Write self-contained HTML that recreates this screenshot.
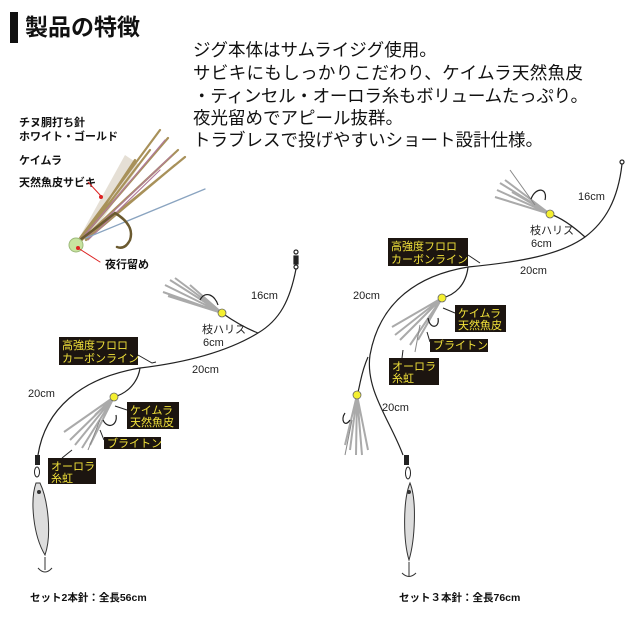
<!DOCTYPE html>
<html><head><meta charset="utf-8"><style>
body{margin:0;background:#fff}
svg{display:block}
text{font-family:"Liberation Sans","Noto Sans CJK JP",sans-serif}
.b{font-weight:bold;font-size:11px;fill:#111}
.y{fill:#f2e23a;font-size:11px}
.s{font-size:11px;fill:#222}
</style></head><body>
<svg width="630" height="630" viewBox="0 0 630 630" xmlns="http://www.w3.org/2000/svg">
<rect width="630" height="630" fill="#fff"/>
<rect x="10" y="12" width="8" height="31" fill="#111"/>
<text x="25" y="35" font-size="23" font-weight="bold" fill="#111">製品の特徴</text>
<g font-size="17.5" fill="#111">
<text x="193" y="56">ジグ本体はサムライジグ使用。</text>
<text x="193" y="79" textLength="390">サビキにもしっかりこだわり、ケイムラ天然魚皮</text>
<text x="193" y="102" textLength="395">・ティンセル・オーロラ糸もボリュームたっぷり。</text>
<text x="193" y="124">夜光留めでアピール抜群。</text>
<text x="193" y="146">トラブレスで投げやすいショート設計仕様。</text>
</g>
<!-- fly illustration -->
<text class="b" x="19" y="126">チヌ胴打ち針</text>
<text class="b" x="19" y="140">ホワイト・ゴールド</text>
<text class="b" x="19" y="164">ケイムラ</text>
<text class="b" x="19" y="186">天然魚皮サビキ</text>
<text class="b" x="105" y="268">夜行留め</text>
<g stroke-linecap="round" fill="none">
<path d="M78 240 L125 155 L140 165 L88 240 Z" fill="#e2dcd0" stroke="none" opacity="0.9"/>
<path d="M80 238 L160 130 M82 238 L168 138 M84 238 L178 150 M86 238 L185 157 M84 236 L150 150 M86 240 L175 165 M82 240 L135 160" stroke="#a8915a" stroke-width="2.2"/>
<path d="M84 236 L165 140 M86 238 L172 155 M88 240 L160 170" stroke="#b07a9a" stroke-width="1.2"/>
<line x1="86" y1="238" x2="205" y2="189" stroke="#8aa4c0" stroke-width="1.3"/>
<path d="M80 240 Q100 225 115 213 Q135 225 130 240 Q125 250 117 247" stroke="#6b5a30" stroke-width="2.5"/>
<circle cx="76" cy="245" r="7" fill="#c8e3a0" stroke="#9cb97a"/>
<line x1="78" y1="248" x2="100" y2="262" stroke="#d22" stroke-width="1"/>
<circle cx="78" cy="248" r="2" fill="#d22"/>
<line x1="88" y1="182" x2="101" y2="196" stroke="#d22" stroke-width="1"/>
<circle cx="101" cy="197" r="2" fill="#d22"/>
</g>
<!-- LEFT RIG -->
<g fill="none" stroke="#222" stroke-width="1.2">
<circle cx="296" cy="252" r="2"/>
<rect x="294" y="256" width="4" height="8" fill="#222"/>
<circle cx="296" cy="267" r="2"/>
<path d="M296 269 C290 300 280 320 258 333 C230 350 190 362 140 368 C80 378 45 410 38 455"/>
<path d="M258 333 C245 328 232 320 222 313"/>
<path d="M140 368 C138 382 128 393 114 397"/>
</g>
<g stroke="#aaa" stroke-width="2">
<path d="M222 313 L165 285 M222 313 L170 280 M222 313 L175 278 M222 313 L163 292 M222 313 L168 296 M222 313 L190 285"/>
<path d="M114 397 L70 440 M114 397 L75 445 M114 397 L82 448 M114 397 L90 445 M114 397 L64 432 M114 397 L95 415"/>
</g>
<path d="M218 305 C215 295 205 290 200 300" stroke="#222" fill="none" stroke-width="1.2"/>
<path d="M103 420 C108 430 118 425 116 415" stroke="#222" fill="none" stroke-width="1.2"/>
<line x1="100" y1="420" x2="88" y2="450" stroke="#888"/>
<circle cx="222" cy="313" r="4" fill="#f4ef30" stroke="#666" stroke-width="0.8"/>
<circle cx="114" cy="397" r="4" fill="#f4ef30" stroke="#666" stroke-width="0.8"/>
<text class="s" x="251" y="299">16cm</text>
<text class="s" x="202" y="333">枝ハリス</text>
<text class="s" x="203" y="346">6cm</text>
<text class="s" x="192" y="373">20cm</text>
<text class="s" x="28" y="397">20cm</text>
<rect x="59" y="337" width="79" height="28" fill="#1c1510"/>
<text class="y" x="62" y="349">高強度フロロ</text>
<text class="y" x="62" y="362">カーボンライン</text>
<path d="M138 355 L152 363 L156 362" stroke="#222" fill="none"/>
<rect x="127" y="402" width="52" height="27" fill="#1c1510"/>
<text class="y" x="130" y="414">ケイムラ</text>
<text class="y" x="130" y="426">天然魚皮</text>
<line x1="127" y1="410" x2="115" y2="406" stroke="#222"/>
<rect x="104" y="437" width="57" height="12" fill="#1c1510"/>
<text class="y" x="107" y="447">ブライトン</text>
<line x1="104" y1="440" x2="100" y2="430" stroke="#222"/>
<rect x="48" y="458" width="48" height="26" fill="#1c1510"/>
<text class="y" x="51" y="470">オーロラ</text>
<text class="y" x="51" y="482">糸虹</text>
<line x1="62" y1="458" x2="72" y2="450" stroke="#222"/>
<rect x="35" y="455" width="5" height="10" fill="#222"/>
<ellipse cx="37" cy="472" rx="2.5" ry="5" fill="none" stroke="#222"/>
<path d="M36 483 C30 500 33 535 45 555 C52 535 48 500 40 483 Z" fill="#ddd" stroke="#333"/>
<circle cx="39" cy="492" r="2" fill="#333"/>
<path d="M45 557 L45 570 M38 568 Q45 576 52 568" stroke="#333" fill="none"/>
<text x="30" y="601" font-size="10.5" font-weight="bold" fill="#111">セット2本針：全長56cm</text>
<!-- RIGHT RIG -->
<g fill="none" stroke="#222" stroke-width="1.2">
<circle cx="622" cy="162" r="2"/>
<path d="M622 164 C618 200 605 222 585 237 C560 255 520 262 468 267 C420 275 380 300 370 355 C365 390 390 420 403 455"/>
<path d="M585 237 C575 228 562 218 550 214"/>
<path d="M468 267 C466 285 455 295 442 298"/>
<path d="M368 357 C360 375 360 388 357 395"/>
</g>
<g stroke="#aaa" stroke-width="2">
<path d="M550 214 L497 190 M550 214 L500 183 M550 214 L505 180 M550 214 L495 197 M550 214 L512 192"/>
<path d="M442 298 L395 335 M442 298 L400 340 M442 298 L410 345 M442 298 L418 340 M442 298 L392 327"/>
<path d="M357 395 L350 450 M357 395 L356 455 M357 395 L362 455 M357 395 L368 450 M357 395 L345 445"/>
</g>
<line x1="510" y1="170" x2="535" y2="205" stroke="#888"/>
<line x1="420" y1="325" x2="415" y2="352" stroke="#888"/>
<line x1="352" y1="420" x2="345" y2="455" stroke="#888"/>
<path d="M531 199 C536 186 548 188 545 200" stroke="#222" fill="none" stroke-width="1.2"/>
<path d="M428 318 C430 330 440 328 438 318" stroke="#222" fill="none" stroke-width="1.2"/>
<path d="M345 413 C340 420 345 428 350 420" stroke="#222" fill="none" stroke-width="1.2"/>
<circle cx="550" cy="214" r="4" fill="#f4ef30" stroke="#666" stroke-width="0.8"/>
<circle cx="442" cy="298" r="4" fill="#f4ef30" stroke="#666" stroke-width="0.8"/>
<circle cx="357" cy="395" r="4" fill="#f4ef30" stroke="#666" stroke-width="0.8"/>
<text class="s" x="578" y="200">16cm</text>
<text class="s" x="530" y="234">枝ハリス</text>
<text class="s" x="531" y="247">6cm</text>
<text class="s" x="520" y="274">20cm</text>
<text class="s" x="353" y="299">20cm</text>
<text class="s" x="382" y="411">20cm</text>
<rect x="388" y="238" width="80" height="28" fill="#1c1510"/>
<text class="y" x="391" y="250">高強度フロロ</text>
<text class="y" x="391" y="263">カーボンライン</text>
<path d="M468 255 L480 263" stroke="#222"/>
<rect x="455" y="305" width="51" height="27" fill="#1c1510"/>
<text class="y" x="458" y="317">ケイムラ</text>
<text class="y" x="458" y="329">天然魚皮</text>
<line x1="455" y1="313" x2="443" y2="308" stroke="#222"/>
<rect x="430" y="339" width="58" height="13" fill="#1c1510"/>
<text class="y" x="433" y="349">ブライトン</text>
<line x1="430" y1="342" x2="427" y2="332" stroke="#222"/>
<rect x="389" y="358" width="50" height="27" fill="#1c1510"/>
<text class="y" x="392" y="370">オーロラ</text>
<text class="y" x="392" y="382">糸虹</text>
<line x1="402" y1="358" x2="403" y2="350" stroke="#222"/>
<rect x="404" y="455" width="5" height="10" fill="#222"/>
<ellipse cx="408" cy="473" rx="2.5" ry="6" fill="none" stroke="#222"/>
<path d="M410 483 C403 500 403 540 409 560 C415 540 417 500 410 483 Z" fill="#ddd" stroke="#333"/>
<circle cx="409" cy="492" r="2" fill="#333"/>
<path d="M409 562 L409 576 M402 573 Q409 580 416 573" stroke="#333" fill="none"/>
<text x="399" y="601" font-size="10.5" font-weight="bold" fill="#111">セット３本針：全長76cm</text>
</svg>
</body></html>
